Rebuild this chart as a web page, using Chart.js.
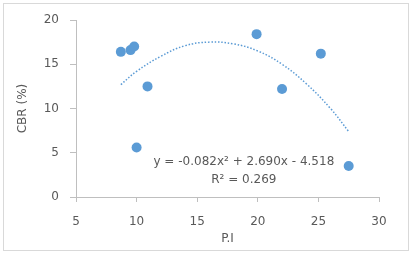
<!DOCTYPE html>
<html>
<head>
<meta charset="utf-8">
<script src="https://cdn.jsdelivr.net/npm/chart.js@4.4.0/dist/chart.umd.min.js"></script>
<style>
  body { margin: 0; background: #fff; }
  #frame { position: absolute; left: 3px; top: 3px; width: 404px; height: 246px; border: 1px solid #d9d9d9; }
  #wrap { position: absolute; left: 0; top: 0; width: 411px; height: 256px; }
</style>
</head>
<body>
<div id="frame"></div>
<div id="wrap"><canvas id="chart" width="411" height="256"></canvas></div>
<script>
// measured samples
const piValues = [8.7, 9.5, 9.8, 10.9, 10.0, 19.9, 22.0, 25.2, 27.5];
const cbrValues = [16.4, 16.6, 17.0, 12.5, 5.6, 18.4, 12.2, 16.2, 3.5];

// polynomial trendline
const trendX = [8.7, 10, 12, 14, 16, 18, 20, 22, 24, 26, 27.5];
const trendY = [12.7, 14.2, 15.9, 17.1, 17.5, 17.3, 16.5, 15.0, 12.8, 10.0, 7.4];

const xTicks = [5, 10, 15, 20, 25, 30];
const yTicks = [0, 5, 10, 15, 20];

const equationLines = ['y = -0.082x\u00b2 + 2.690x - 4.518', 'R\u00b2 = 0.269'];

const blue = '#5b9bd5';
const axisGray = '#bfbfbf';
const textGray = '#595959';
const fontFamily = '"DejaVu Sans", sans-serif';

const equationLabel = {
	id: 'equationLabel',
	afterDatasetsDraw(chart) {
		const ctx = chart.ctx;
		const xs = chart.scales.x;
		const ys = chart.scales.y;
		const cx = xs.getPixelForValue(18.85);
		const top = ys.getPixelForValue(3.95);
		ctx.save();
		ctx.fillStyle = textGray;
		ctx.font = '12px ' + fontFamily;
		ctx.textAlign = 'center';
		ctx.textBaseline = 'middle';
		equationLines.forEach((line, i) => ctx.fillText(line, cx, top + i * 18));
		ctx.restore();
	},
};

const ctx = document.getElementById('chart').getContext('2d');
new Chart(ctx, {
	type: 'scatter',
	data: {
		datasets: [
			{
				label: 'Trend',
				data: trendX.map((x, i) => ({ x: x, y: trendY[i] })),
				showLine: true,
				borderColor: blue,
				borderWidth: 1.5,
				borderDash: [1.5, 1.8],
				tension: 0.4,
				pointRadius: 0,
				fill: false,
			},
			{
				label: 'CBR',
				data: piValues.map((x, i) => ({ x: x, y: cbrValues[i] })),
				backgroundColor: blue,
				borderColor: blue,
				pointRadius: 5,
				borderWidth: 0,
			},
		],
	},
	options: {
		responsive: false,
		animation: false,
		layout: { padding: { left: 0, right: 32, top: 20, bottom: 0 } },
		plugins: { legend: { display: false }, tooltip: { enabled: false } },
		scales: {
			x: {
				type: 'linear',
				min: 5,
				max: 30,
				afterBuildTicks: (s) => { s.ticks = xTicks.map(v => ({ value: v })); },
				afterFit: (s) => { s.height = 59; },
				grid: { drawOnChartArea: false, color: axisGray, tickLength: 5 },
				border: { color: axisGray },
				ticks: { color: textGray, font: { size: 12, family: fontFamily }, padding: 13 },
				title: { display: true, text: 'P.I', color: textGray, font: { size: 12, family: fontFamily }, padding: { top: 0, bottom: 10 } },
			},
			y: {
				min: 0,
				max: 20,
				afterBuildTicks: (s) => { s.ticks = yTicks.map(v => ({ value: v })); },
				afterFit: (s) => { s.width = 76; },
				grid: { drawOnChartArea: false, color: axisGray, tickLength: 6 },
				border: { color: axisGray },
				ticks: { color: textGray, font: { size: 12, family: fontFamily }, padding: 11 },
				title: { display: true, text: 'CBR (%)', color: textGray, font: { size: 12, family: fontFamily }, padding: { top: 16, bottom: 0 } },
			},
		},
	},
	plugins: [equationLabel],
});
</script>
</body>
</html>
